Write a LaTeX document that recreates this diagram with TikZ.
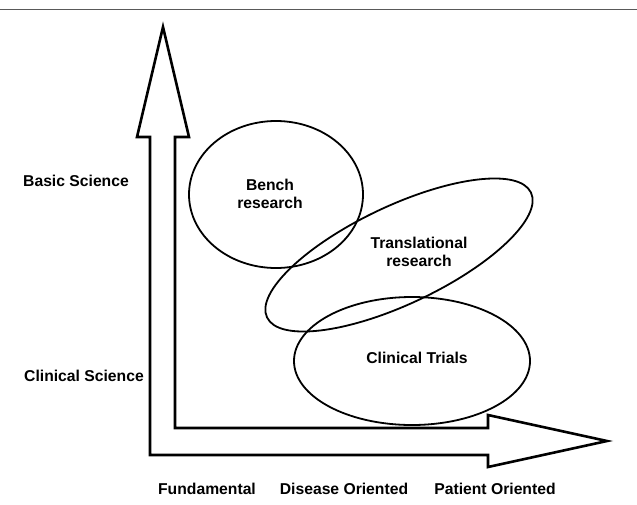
\documentclass[tikz,border=0pt]{standalone}
\usepackage{fontspec}
\setmainfont{Liberation Sans}
\begin{document}
\begin{tikzpicture}[x=1pt,y=-1pt,
  lbl/.style={font=\fontsize{15.7}{18}\selectfont\bfseries, inner sep=0pt, align=center},
  axisline/.style={line width=2.6pt, line join=miter},
  oval/.style={line width=1.8pt}]
\useasboundingbox (0,0) rectangle (637,504);
\draw[gray!70!black, line width=0.9pt] (0,9) -- (637,9);
% L-shaped double arrow
\draw[axisline] (163,27) -- (189,137) -- (175,137) -- (175,428) -- (488,428) -- (488,415)
  -- (607,441) -- (488,467) -- (488,455) -- (150,455) -- (150,137) -- (137,137) -- cycle;
% ellipses
\draw[oval] (276,194.5) ellipse [x radius=87, y radius=73.5];
\draw[oval, rotate around={25.3:(399,255)}] (399,255) ellipse [x radius=146, y radius=49];
\draw[oval] (412,361) ellipse [x radius=118, y radius=64];
% labels
\node[lbl] (bench) at (270,194) {Bench\\research};
\node[lbl] (trans) at (419,252) {Translational\\research};
\node[lbl] (trials) at (417,358) {Clinical Trials};
\node[lbl, anchor=west] (basic) at (23,181) {Basic Science};
\node[lbl, anchor=west] (clin) at (24,376) {Clinical Science};
\node[lbl] (fund) at (207,489) {Fundamental};
\node[lbl] (dis) at (344,489) {Disease Oriented};
\node[lbl] (pat) at (495,489) {Patient Oriented};
\end{tikzpicture}
\end{document}
